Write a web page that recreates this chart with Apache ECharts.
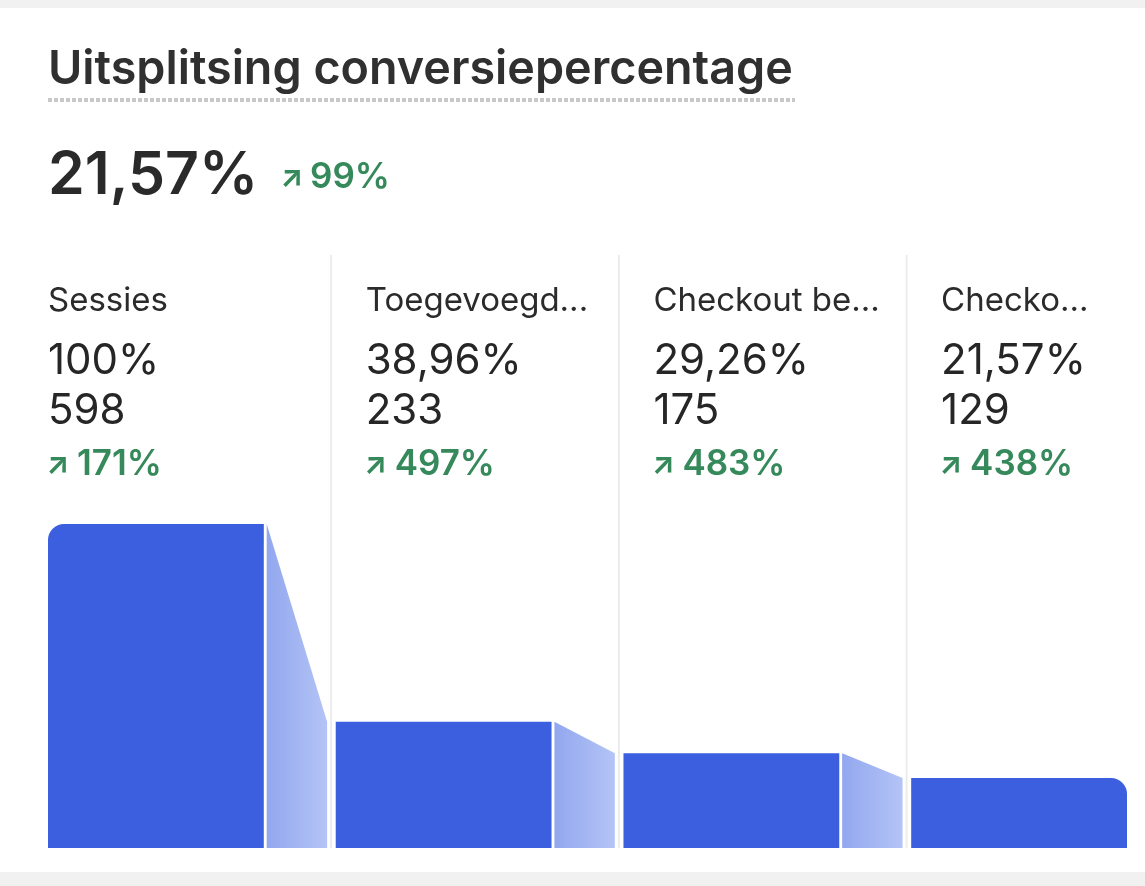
<!DOCTYPE html>
<html>
<head>
<meta charset="utf-8">
<script src="https://cdn.jsdelivr.net/npm/echarts@6/dist/echarts.min.js"></script>
<style>
html,body{margin:0;padding:0;background:#ffffff;}
#chart{width:1145px;height:886px;}
</style>
</head>
<body>
<div id="chart"></div>
<script>
// ---- data ----
const title = 'Uitsplitsing conversiepercentage';
const overallRate = 21.57;
const overallChange = 99;
const stepLabels = ['Sessies', 'Toegevoegd...', 'Checkout be...', 'Checko...'];
const stepPercents = [100, 38.96, 29.26, 21.57];
const stepCounts = [598, 233, 175, 129];
const stepChanges = [171, 497, 483, 438];

// ---- helpers ----
const fmtPct = v => (Number.isInteger(v) ? String(v) : v.toFixed(2).replace('.', ',')) + '%';
const FONT = 'Inter, "Noto Sans", sans-serif';
const BLUE = '#3c5fdf';
const GREEN = '#35895a';
const DARK = '#262626';

const seriesData = stepPercents.map((p, i) => [i, p, i < stepPercents.length - 1 ? stepPercents[i + 1] : null]);

const BAR_W = 0.75, CONN_S = 0.76, CONN_E = 0.97, SEP = 0.016, LABEL_OFF = 0.104;

function renderItem(params, api) {
  const i = api.value(0);
  const p = api.value(1);
  const n = seriesData[i][2];
  const last = stepPercents.length - 1;
  const base = api.coord([i, 0]);
  const top = api.coord([i, p]);
  const end = api.coord([i + BAR_W, 0]);
  const children = [];
  const r = i === 0 ? [16, 0, 0, 0] : (i === last ? [0, 16, 0, 0] : 0);
  children.push({
    type: 'rect',
    shape: { x: base[0], y: top[1], width: end[0] - base[0], height: base[1] - top[1], r: r },
    style: { fill: BLUE }
  });
  if (n !== null && !isNaN(n)) {
    const a = api.coord([i + CONN_S, p]);
    const b = api.coord([i + CONN_E, n]);
    const a0 = api.coord([i + CONN_S, 0]);
    const b0 = api.coord([i + CONN_E, 0]);
    children.push({
      type: 'polygon',
      shape: { points: [a, b, b0, a0] },
      style: {
        fill: new echarts.graphic.LinearGradient(0, 0, 1, 0, [
          { offset: 0, color: '#92a7ee' },
          { offset: 1, color: '#b4c4f6' }
        ])
      }
    });
  }
  if (i > 0) {
    const sx = api.coord([i - SEP, 0])[0];
    children.push({
      type: 'line',
      shape: { x1: sx, y1: 255, x2: sx, y2: base[1] },
      style: { stroke: '#ececec', lineWidth: 2 }
    });
  }
  const lx = i === 0 ? base[0] : api.coord([i + LABEL_OFF, 0])[0];
  children.push({
    type: 'text', x: lx, y: 301,
    style: { text: stepLabels[i], font: '400 33px ' + FONT, fill: '#2b2b2b', verticalAlign: 'middle', align: 'left' }
  });
  children.push({
    type: 'text', x: lx, y: 361,
    style: { text: fmtPct(p), font: '400 42px ' + FONT, fill: DARK, verticalAlign: 'middle', align: 'left' }
  });
  children.push({
    type: 'text', x: lx, y: 411,
    style: { text: String(stepCounts[i]), font: '400 42px ' + FONT, fill: DARK, verticalAlign: 'middle', align: 'left' }
  });
  children.push({
    type: 'text', x: lx - 2, y: 465,
    style: { text: '↗', font: '700 30px ' + FONT, fill: GREEN, verticalAlign: 'middle', align: 'left' }
  });
  children.push({
    type: 'text', x: lx + 29, y: 464,
    style: { text: stepChanges[i] + '%', font: '600 35px ' + FONT, fill: GREEN, verticalAlign: 'middle', align: 'left' }
  });
  return { type: 'group', children: children };
}

const chart = echarts.init(document.getElementById('chart'), null, { renderer: 'canvas' });
chart.setOption({
  backgroundColor: '#ffffff',
  animation: false,
  grid: { left: 48, top: 524, width: 1079, height: 324 },
  xAxis: { type: 'value', min: 0, max: 3.75, show: false },
  yAxis: { type: 'value', min: 0, max: 100, show: false },
  graphic: [
    { type: 'rect', shape: { x: 0, y: 0, width: 1145, height: 8 }, style: { fill: '#f1f1f1' } },
    { type: 'rect', shape: { x: 0, y: 872, width: 1145, height: 14 }, style: { fill: '#f1f1f1' } },
    { type: 'text', x: 48, y: 70, style: { text: title, font: '600 46.7px ' + FONT, fill: '#303030', verticalAlign: 'middle' } },
    { type: 'line', shape: { x1: 48, y1: 100, x2: 795, y2: 100 }, style: { stroke: '#c8c8c8', lineWidth: 4, lineDash: [4, 2] } },
    { type: 'text', x: 48, y: 176, style: { text: fmtPct(overallRate), font: '600 59px ' + FONT, fill: '#2a2a2a', verticalAlign: 'middle' } },
    { type: 'text', x: 280, y: 178, style: { text: '↗', font: '700 30px ' + FONT, fill: GREEN, verticalAlign: 'middle' } },
    { type: 'text', x: 310, y: 177, style: { text: overallChange + '%', font: '600 35px ' + FONT, fill: GREEN, verticalAlign: 'middle' } }
  ],
  series: [{
    type: 'custom',
    renderItem: renderItem,
    data: seriesData,
    clip: false,
    silent: true
  }]
});
</script>
</body>
</html>
